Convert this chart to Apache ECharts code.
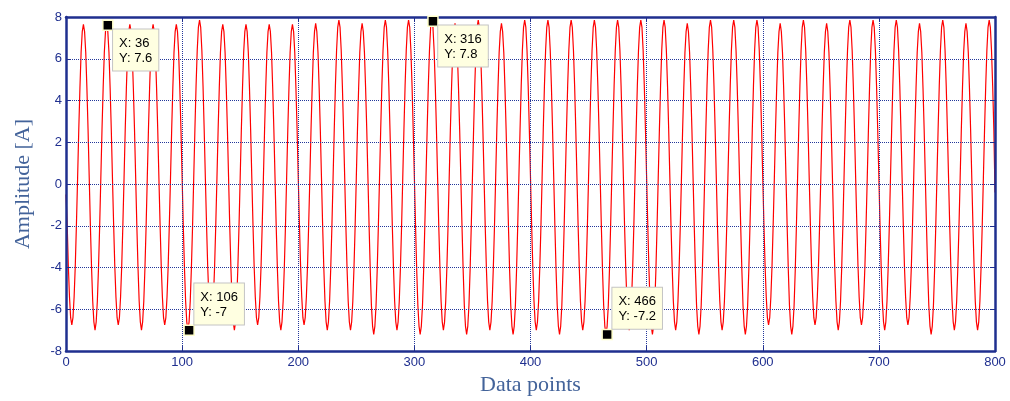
<!DOCTYPE html>
<html>
<head>
<meta charset="utf-8">
<script src="https://cdn.jsdelivr.net/npm/echarts@6/dist/echarts.min.js"></script>
<style>
  html, body { margin: 0; padding: 0; background: #ffffff; }
  #chart { width: 1010px; height: 401px; }
</style>
</head>
<body>
<div id="chart"></div>
<script>
// Sample amplitudes, data points 0..800 (one row per ~20-sample cycle)
var amplitudeValues = [
  -0.5,
  -1.9,-3.9,-5.4,-6.4,-6.75,-6.4,-5.4,-3.9,-1.9,0.3,2.6,4.6,6.3,7.3,7.65,7.3,6.3,4.6,2.6,0.3,
  -2.0,-4.0,-5.6,-6.6,-7.0,-6.6,-5.6,-4.0,-2.0,0.3,2.6,4.6,6.3,7.3,7.65,7.3,6.3,4.6,2.6,0.3,
  -1.9,-3.9,-5.4,-6.4,-6.75,-6.4,-5.4,-3.9,-1.9,0.3,2.6,4.6,6.3,7.3,7.65,7.3,6.3,4.6,2.6,0.3,
  -2.0,-4.0,-5.6,-6.6,-7.0,-6.6,-5.6,-4.0,-2.0,0.3,2.6,4.6,6.3,7.3,7.65,7.3,6.3,4.6,2.6,0.3,
  -1.9,-3.9,-5.4,-6.4,-6.75,-6.4,-5.4,-3.9,-1.9,0.3,2.6,4.6,6.3,7.3,7.65,7.3,6.3,4.6,2.6,0.3,
  -2.0,-4.0,-5.6,-6.6,-7.0,-6.6,-5.6,-4.0,-2.0,0.3,2.6,4.7,6.4,7.5,7.85,7.5,6.4,4.7,2.6,0.3,
  -1.9,-3.9,-5.4,-6.4,-6.75,-6.4,-5.4,-3.9,-1.9,0.3,2.6,4.6,6.3,7.3,7.65,7.3,6.3,4.6,2.6,0.3,
  -2.0,-4.0,-5.6,-6.6,-7.0,-6.6,-5.6,-4.0,-2.0,0.3,2.6,4.6,6.3,7.3,7.65,7.3,6.3,4.6,2.6,0.3,
  -1.9,-3.9,-5.4,-6.4,-6.75,-6.4,-5.4,-3.9,-1.9,0.3,2.6,4.6,6.3,7.3,7.65,7.3,6.3,4.6,2.6,0.3,
  -2.0,-4.0,-5.6,-6.6,-7.0,-6.6,-5.6,-4.0,-2.0,0.3,2.6,4.6,6.3,7.3,7.65,7.3,6.3,4.6,2.6,0.3,
  -1.9,-3.9,-5.4,-6.4,-6.75,-6.4,-5.4,-3.9,-1.9,0.3,2.6,4.6,6.3,7.3,7.7,7.3,6.3,4.6,2.6,0.3,
  -2.0,-4.0,-5.6,-6.6,-7.0,-6.6,-5.6,-4.0,-2.0,0.3,2.6,4.7,6.4,7.5,7.85,7.5,6.4,4.7,2.6,0.3,
  -2.0,-4.0,-5.6,-6.6,-7.0,-6.6,-5.6,-4.0,-2.0,0.3,2.6,4.6,6.3,7.3,7.7,7.3,6.3,4.6,2.6,0.3,
  -2.0,-4.1,-5.8,-6.8,-7.2,-6.8,-5.8,-4.1,-2.0,0.3,2.6,4.7,6.4,7.5,7.85,7.5,6.4,4.7,2.6,0.3,
  -2.0,-4.0,-5.6,-6.6,-7.0,-6.6,-5.6,-4.0,-2.0,0.3,2.6,4.7,6.4,7.5,7.85,7.5,6.4,4.7,2.6,0.3,
  -2.0,-4.1,-5.8,-6.8,-7.2,-6.8,-5.8,-4.1,-2.0,0.3,2.6,4.7,6.4,7.5,7.85,7.5,6.4,4.7,2.6,0.3,
  -2.0,-4.0,-5.6,-6.6,-7.0,-6.6,-5.6,-4.0,-2.0,0.3,2.6,4.6,6.3,7.3,7.7,7.3,6.3,4.6,2.6,0.3,
  -2.0,-4.1,-5.8,-6.8,-7.2,-6.8,-5.8,-4.1,-2.0,0.3,2.6,4.7,6.4,7.5,7.85,7.5,6.4,4.7,2.6,0.3,
  -2.0,-4.0,-5.6,-6.6,-7.0,-6.6,-5.6,-4.0,-2.0,0.3,2.6,4.6,6.3,7.3,7.7,7.3,6.3,4.6,2.6,0.3,
  -2.0,-4.1,-5.8,-6.8,-7.2,-6.8,-5.8,-4.1,-2.0,0.3,2.6,4.7,6.4,7.5,7.85,7.5,6.4,4.7,2.6,0.3,
  -2.0,-4.0,-5.6,-6.6,-7.0,-6.6,-5.6,-4.0,-2.0,0.3,2.6,4.7,6.4,7.5,7.85,7.5,6.4,4.7,2.6,0.3,
  -2.0,-4.1,-5.8,-6.8,-7.2,-6.8,-5.8,-4.1,-2.0,0.3,2.6,4.7,6.4,7.5,7.85,7.5,6.4,4.7,2.6,0.3,
  -2.0,-4.0,-5.6,-6.6,-7.0,-6.6,-5.6,-4.0,-2.0,0.3,2.6,4.7,6.4,7.5,7.85,7.5,6.4,4.7,2.6,0.3,
  -2.0,-4.1,-5.8,-6.8,-7.2,-6.8,-5.8,-4.1,-2.0,0.3,2.6,4.7,6.4,7.5,7.85,7.5,6.4,4.7,2.6,0.3,
  -2.0,-4.0,-5.6,-6.6,-7.0,-6.6,-5.6,-4.0,-2.0,0.3,2.6,4.7,6.4,7.5,7.85,7.5,6.4,4.7,2.6,0.3,
  -2.0,-4.1,-5.8,-6.8,-7.2,-6.8,-5.8,-4.1,-2.0,0.3,2.6,4.7,6.4,7.5,7.85,7.5,6.4,4.7,2.6,0.3,
  -2.0,-4.0,-5.6,-6.6,-7.0,-6.6,-5.6,-4.0,-2.0,0.3,2.6,4.6,6.3,7.3,7.7,7.3,6.3,4.6,2.6,0.3,
  -2.0,-4.1,-5.8,-6.8,-7.2,-6.8,-5.8,-4.1,-2.0,0.3,2.6,4.7,6.4,7.5,7.85,7.5,6.4,4.7,2.6,0.3,
  -2.0,-4.0,-5.6,-6.6,-7.0,-6.6,-5.6,-4.0,-2.0,0.3,2.6,4.7,6.4,7.5,7.85,7.5,6.4,4.7,2.6,0.3,
  -2.0,-4.1,-5.8,-6.8,-7.2,-6.8,-5.8,-4.1,-2.0,0.3,2.6,4.7,6.4,7.5,7.85,7.5,6.4,4.7,2.6,0.3,
  -1.9,-3.9,-5.4,-6.4,-6.75,-6.4,-5.4,-3.9,-1.9,0.3,2.6,4.6,6.3,7.3,7.7,7.3,6.3,4.6,2.6,0.3,
  -2.0,-4.1,-5.8,-6.8,-7.2,-6.8,-5.8,-4.1,-2.0,0.3,2.6,4.7,6.4,7.5,7.85,7.5,6.4,4.7,2.6,0.3,
  -1.9,-3.9,-5.4,-6.4,-6.75,-6.4,-5.4,-3.9,-1.9,0.3,2.6,4.6,6.3,7.3,7.7,7.3,6.3,4.6,2.6,0.3,
  -2.0,-4.0,-5.6,-6.6,-7.0,-6.6,-5.6,-4.0,-2.0,0.3,2.6,4.7,6.4,7.5,7.85,7.5,6.4,4.7,2.6,0.3,
  -1.9,-3.9,-5.4,-6.4,-6.75,-6.4,-5.4,-3.9,-1.9,0.3,2.6,4.7,6.4,7.5,7.85,7.5,6.4,4.7,2.6,0.3,
  -2.0,-4.0,-5.6,-6.6,-7.0,-6.6,-5.6,-4.0,-2.0,0.3,2.6,4.7,6.4,7.5,7.85,7.5,6.4,4.7,2.6,0.3,
  -1.9,-3.9,-5.4,-6.4,-6.75,-6.4,-5.4,-3.9,-1.9,0.3,2.6,4.6,6.3,7.3,7.7,7.3,6.3,4.6,2.6,0.3,
  -2.0,-4.1,-5.8,-6.8,-7.2,-6.8,-5.8,-4.1,-2.0,0.3,2.6,4.7,6.4,7.5,7.85,7.5,6.4,4.7,2.6,0.3,
  -2.0,-4.0,-5.6,-6.6,-7.0,-6.6,-5.6,-4.0,-2.0,0.3,2.6,4.6,6.3,7.3,7.7,7.3,6.3,4.6,2.6,0.3,
  -2.0,-4.0,-5.6,-6.6,-7.0,-6.6,-5.6,-4.0,-2.0,0.3,2.6,4.7,6.4,7.5,7.85,7.5,6.4,4.7,2.6,-0.4
];

// Data tips (MATLAB-style cursors)
var peakTipX = [36, 316];
var peakTipY = [7.6, 7.8];
var troughTipX = [106, 466];
var troughTipY = [-7, -7.2];

// Axis ranges / ticks
var xMin = 0, xMax = 800, xStep = 100;
var yMin = -8, yMax = 8, yStep = 2;

var xAxisTitle = 'Data points';
var yAxisTitle = 'Amplitude [A]';

var lineData = amplitudeValues.map(function (v, i) { return [i, v]; });
var peakTips = peakTipX.map(function (x, i) { return [x, peakTipY[i]]; });
var troughTips = troughTipX.map(function (x, i) { return [x, troughTipY[i]]; });

var axisBlue = '#1f2f8f';
var gridBlue = '#24379a';
var titleBlue = '#43639a';

function tipFormatter(p) { return 'X: ' + p.value[0] + '\nY: ' + p.value[1]; }

var tipLabelBase = {
  show: true,
  formatter: tipFormatter,
  fontFamily: 'Liberation Sans, Arial, sans-serif',
  fontSize: 13,
  lineHeight: 15,
  color: '#000000',
  opacity: 1,
  backgroundColor: '#ffffe1',
  borderColor: '#c4c4c4',
  borderWidth: 1,
  padding: [6, 6, 5, 6],
  align: 'left'
};

var chart = echarts.init(document.getElementById('chart'), null, { renderer: 'canvas' });

var axisLineStyle = { color: axisBlue, width: 2.5 };

chart.setOption({
  animation: false,
  backgroundColor: '#ffffff',
  grid: { left: 66, right: 15, top: 17, bottom: 48, containLabel: false },
  xAxis: [{
    type: 'value', min: xMin, max: xMax, interval: xStep, position: 'bottom', z: 3,
    axisLine: { show: true, onZero: false, lineStyle: axisLineStyle },
    axisTick: { show: true, inside: true, length: 5, lineStyle: { color: axisBlue, width: 1 } },
    axisLabel: { color: axisBlue, fontFamily: 'Liberation Sans, Arial, sans-serif', fontSize: 13, margin: 5 },
    splitLine: { show: true, lineStyle: { color: gridBlue, type: 'dotted', width: 1 } },
    name: xAxisTitle, nameLocation: 'middle', nameGap: 16,
    nameTextStyle: { color: titleBlue, fontFamily: 'Liberation Serif, Times New Roman, serif', fontSize: 22 }
  }, {
    type: 'value', min: xMin, max: xMax, interval: xStep, position: 'top', z: 3,
    axisLine: { show: true, onZero: false, lineStyle: axisLineStyle },
    axisTick: { show: true, inside: true, length: 5, lineStyle: { color: axisBlue, width: 1 } },
    axisLabel: { show: false },
    splitLine: { show: false }
  }],
  yAxis: [{
    type: 'value', min: yMin, max: yMax, interval: yStep, position: 'left', z: 3,
    axisLine: { show: true, onZero: false, lineStyle: axisLineStyle },
    axisTick: { show: true, inside: true, length: 5, lineStyle: { color: axisBlue, width: 1 } },
    axisLabel: { color: axisBlue, fontFamily: 'Liberation Sans, Arial, sans-serif', fontSize: 13, margin: 4 },
    splitLine: { show: true, lineStyle: { color: gridBlue, type: 'dotted', width: 1 } },
    name: yAxisTitle, nameLocation: 'middle', nameGap: 32,
    nameTextStyle: { color: titleBlue, fontFamily: 'Liberation Serif, Times New Roman, serif', fontSize: 22 }
  }, {
    type: 'value', min: yMin, max: yMax, interval: yStep, position: 'right', z: 3,
    axisLine: { show: true, onZero: false, lineStyle: axisLineStyle },
    axisTick: { show: true, inside: true, length: 5, lineStyle: { color: axisBlue, width: 1 } },
    axisLabel: { show: false },
    splitLine: { show: false }
  }],
  series: [{
    type: 'line',
    data: lineData,
    xAxisIndex: 0, yAxisIndex: 0,
    showSymbol: false,
    symbol: 'none',
    z: 2,
    lineStyle: { color: '#ff0000', width: 1.2 },
    clip: true
  }, {
    type: 'scatter',
    data: peakTips,
    xAxisIndex: 0, yAxisIndex: 0,
    symbol: 'rect', symbolSize: 10, z: 6,
    itemStyle: { color: '#000000', borderColor: '#ffffcc', borderWidth: 1.5, opacity: 1 },
    label: Object.assign({}, tipLabelBase, { position: [11, 10], verticalAlign: 'top' }),
    emphasis: { disabled: true }
  }, {
    type: 'scatter',
    data: troughTips,
    xAxisIndex: 0, yAxisIndex: 0,
    symbol: 'rect', symbolSize: 10, z: 6,
    itemStyle: { color: '#000000', borderColor: '#ffffcc', borderWidth: 1.5, opacity: 1 },
    label: Object.assign({}, tipLabelBase, { position: [11, 0], verticalAlign: 'bottom' }),
    emphasis: { disabled: true }
  }]
});
</script>
</body>
</html>
